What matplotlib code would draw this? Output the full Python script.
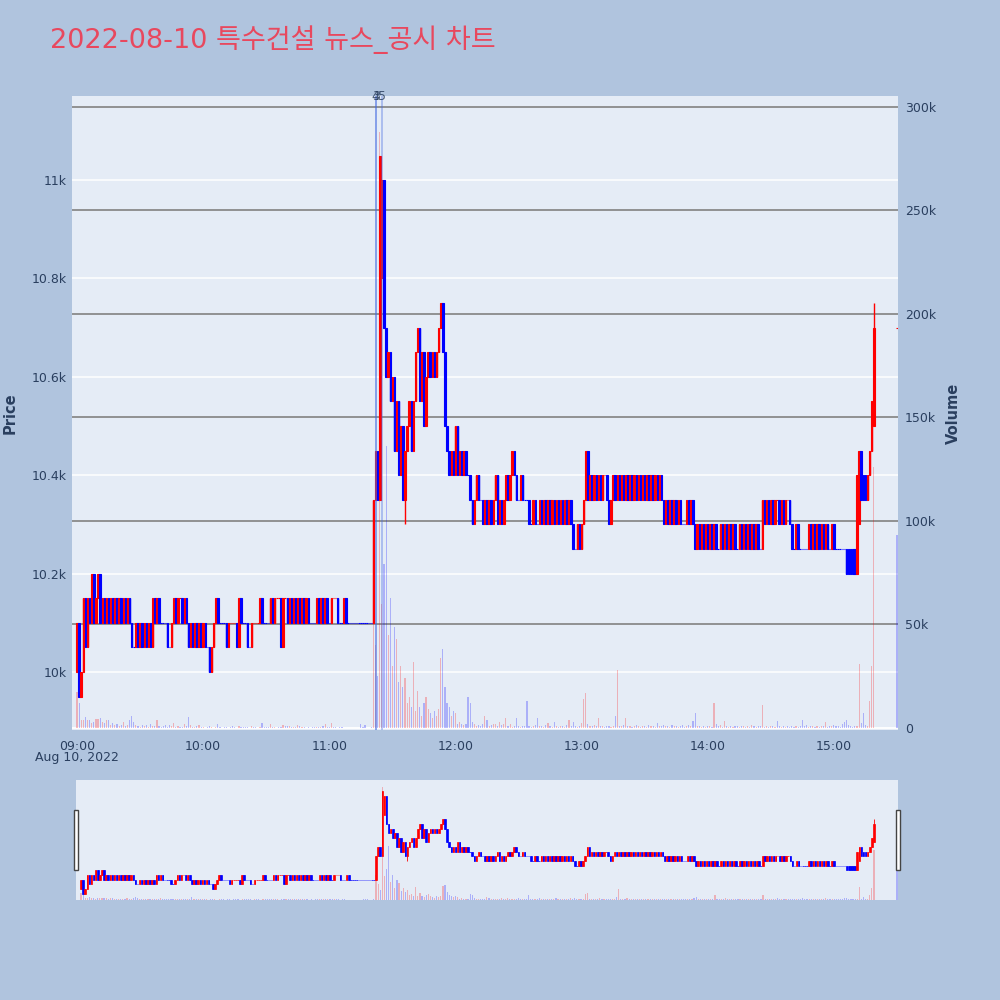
import matplotlib
matplotlib.use('Agg')
import matplotlib.pyplot as plt
import matplotlib.dates as mdates
import matplotlib.transforms as mtransforms
from matplotlib.patches import Rectangle
import pandas as pd

title = '2022-08-10 특수건설 뉴스_공시 차트'

# 1-minute closes 09:00 .. 15:19 (20 per row), closing auction at 15:30
close_prices = [
    10100, 9950, 10000, 10150, 10050, 10150, 10100, 10200, 10100, 10150, 10200, 10100, 10150, 10100, 10150, 10100, 10150, 10100, 10150, 10100,
    10150, 10100, 10150, 10100, 10150, 10100, 10050, 10050, 10100, 10050, 10100, 10050, 10100, 10050, 10100, 10050, 10150, 10100, 10150, 10100,
    10100, 10100, 10100, 10050, 10050, 10100, 10150, 10100, 10150, 10150, 10100, 10150, 10100, 10050, 10100, 10050, 10100, 10050, 10100, 10050,
    10100, 10050, 10050, 10000, 10050, 10100, 10150, 10100, 10100, 10100, 10100, 10050, 10100, 10100, 10100, 10100, 10050, 10150, 10100, 10100,
    10100, 10050, 10050, 10100, 10100, 10100, 10100, 10150, 10100, 10100, 10100, 10100, 10150, 10100, 10150, 10150, 10150, 10050, 10150, 10150,
    10100, 10150, 10100, 10150, 10100, 10150, 10100, 10150, 10100, 10150, 10100, 10100, 10100, 10100, 10150, 10100, 10150, 10100, 10150, 10100,
    10100, 10150, 10150, 10150, 10100, 10100, 10100, 10150, 10100, 10100, 10100, 10100, 10100, 10100, 10100, 10100, 10100, 10100, 10100, 10100,
    10100, 10350, 10450, 10350, 11050, 11000, 10700, 10600, 10650, 10550, 10600, 10450, 10550, 10400, 10500, 10350, 10450, 10500, 10550, 10450,
    10550, 10650, 10700, 10550, 10650, 10500, 10600, 10650, 10600, 10650, 10600, 10650, 10700, 10750, 10650, 10500, 10450, 10400, 10450, 10400,
    10500, 10400, 10450, 10400, 10450, 10400, 10400, 10350, 10300, 10350, 10400, 10350, 10350, 10300, 10350, 10300, 10350, 10300, 10350, 10400,
    10300, 10350, 10300, 10350, 10400, 10350, 10400, 10450, 10400, 10350, 10350, 10400, 10350, 10350, 10350, 10300, 10300, 10350, 10300, 10300,
    10350, 10300, 10350, 10300, 10350, 10300, 10350, 10300, 10350, 10300, 10350, 10300, 10350, 10300, 10350, 10300, 10250, 10250, 10300, 10250,
    10300, 10350, 10450, 10350, 10400, 10350, 10400, 10350, 10400, 10350, 10400, 10400, 10350, 10300, 10350, 10400, 10350, 10400, 10350, 10400,
    10350, 10400, 10350, 10400, 10350, 10400, 10350, 10400, 10350, 10400, 10350, 10400, 10350, 10400, 10350, 10400, 10350, 10400, 10350, 10300,
    10350, 10300, 10350, 10300, 10350, 10300, 10350, 10300, 10300, 10300, 10350, 10300, 10350, 10300, 10250, 10300, 10250, 10300, 10250, 10300,
    10250, 10300, 10250, 10300, 10250, 10250, 10300, 10250, 10300, 10250, 10300, 10250, 10300, 10250, 10250, 10300, 10250, 10300, 10250, 10300,
    10250, 10300, 10250, 10300, 10250, 10250, 10350, 10300, 10350, 10300, 10350, 10300, 10350, 10350, 10300, 10350, 10300, 10350, 10350, 10300,
    10250, 10250, 10300, 10250, 10250, 10250, 10250, 10250, 10300, 10250, 10300, 10250, 10300, 10250, 10300, 10250, 10300, 10250, 10250, 10300,
    10250, 10250, 10250, 10250, 10250, 10250, 10200, 10200, 10200, 10200, 10200, 10400, 10450, 10350, 10350, 10350, 10400, 10450, 10550, 10700,
]
first_open = 10000
auction_price = 10700

# minutes whose open is not the previous close
open_gaps = {145: 10800, 367: 10250, 368: 10250, 369: 10250, 370: 10250,
             372: 10300, 374: 10400, 375: 10400, 379: 10500}
high_wicks = {379: 10750}
low_wicks = {156: 10300}

volumes = [
    17500, 12000, 4000, 4000, 5500, 4000, 4000, 2500, 3000, 4500, 4500, 5000, 3000, 2500, 4000, 4000, 1500, 2300, 1200, 2000,
    1000, 1500, 3000, 800, 1200, 4000, 6000, 3000, 1500, 800, 500, 1500, 800, 1500, 600, 2000, 800, 1000, 4000, 1000,
    500, 800, 1500, 500, 1500, 800, 2600, 500, 800, 500, 300, 2000, 1000, 5500, 1500, 600, 400, 800, 1200, 400,
    300, 200, 500, 800, 300, 200, 400, 2000, 300, 200, 300, 400, 200, 300, 1000, 300, 200, 800, 300, 500,
    300, 500, 200, 700, 400, 300, 200, 500, 2500, 400, 300, 300, 2000, 600, 300, 200, 300, 400, 1200, 800,
    1000, 700, 300, 500, 400, 1500, 800, 400, 300, 200, 300, 200, 500, 300, 400, 600, 300, 900, 1800, 500,
    300, 2500, 400, 300, 200, 500, 300, 200, 100, 100, 200, 100, 100, 100, 100, 2000, 600, 1200, 200, 100,
    300, 63000, 40000, 25000, 288000, 60000, 79000, 136000, 45000, 63000, 30000, 49000, 43000, 22000, 30000, 20000, 24000, 12000, 15000, 10000,
    32000, 8000, 18000, 10000, 6000, 12000, 15000, 9000, 7000, 5000, 8000, 6000, 9000, 34000, 38000, 20000, 12000, 10000, 6000, 8000,
    7000, 2000, 3000, 2000, 1500, 2000, 15000, 12000, 3000, 2000, 1000, 1500, 1000, 2000, 6000, 4000, 1000, 1500, 2000, 2000,
    1000, 3000, 1500, 2000, 5000, 1000, 2000, 500, 1000, 5000, 1000, 500, 1000, 800, 13000, 1000, 500, 800, 1500, 5000,
    1000, 800, 500, 1500, 2500, 1000, 500, 3000, 1000, 500, 800, 1000, 500, 1500, 4000, 800, 3000, 1000, 500, 800,
    2500, 14000, 17000, 2000, 1000, 800, 1500, 1000, 5000, 1000, 800, 500, 1000, 800, 500, 1000, 6000, 28000, 1000, 800,
    1500, 5000, 1000, 800, 500, 1000, 1500, 800, 500, 1000, 800, 500, 1500, 1000, 800, 500, 2500, 1000, 800, 1500,
    1000, 800, 500, 1200, 800, 1000, 500, 800, 1500, 500, 800, 1500, 800, 3500, 7000, 800, 1000, 500, 800, 500,
    800, 1000, 500, 12000, 2000, 800, 1500, 500, 3500, 800, 500, 1000, 500, 800, 1000, 500, 800, 1000, 500, 800,
    500, 1500, 800, 500, 1000, 800, 11000, 500, 800, 500, 1000, 800, 500, 3500, 800, 500, 1000, 500, 800, 500,
    800, 500, 1000, 500, 800, 4000, 1000, 1500, 500, 800, 1000, 500, 800, 500, 1000, 800, 3000, 500, 800, 1000,
    1500, 800, 1000, 500, 2000, 3000, 4000, 1500, 800, 500, 1000, 1000, 31000, 2500, 7000, 1500, 800, 13000, 30000, 126000,
]
auction_volume = 93000

news_times = ['11:22', '11:22', '11:25']
news_labels = ['3', '4', '5']

price_ticks = [10000, 10200, 10400, 10600, 10800, 11000]
price_tick_labels = ['10k', '10.2k', '10.4k', '10.6k', '10.8k', '11k']
volume_ticks = [0, 50000, 100000, 150000, 200000, 250000, 300000]
volume_tick_labels = ['0', '50k', '100k', '150k', '200k', '250k', '300k']

assert len(close_prices) == len(volumes)

# ---- build OHLC ----
times = list(pd.date_range('2022-08-10 09:00', periods=len(close_prices), freq='min'))
times.append(pd.Timestamp('2022-08-10 15:30'))
closes = close_prices + [auction_price]
vols = volumes + [auction_volume]
opens = []
for i, c in enumerate(closes):
    if i in open_gaps:
        opens.append(open_gaps[i])
    elif i == 0:
        opens.append(first_open)
    else:
        opens.append(closes[i - 1])
highs = [high_wicks.get(i, max(o, c)) for i, (o, c) in enumerate(zip(opens, closes))]
lows = [low_wicks.get(i, min(o, c)) for i, (o, c) in enumerate(zip(opens, closes))]

# plotly-style direction: flat candles keep previous direction
inc = []
prev = True
for i, (o, c) in enumerate(zip(opens, closes)):
    if c > o:
        d = True
    elif c < o:
        d = False
    elif i > 0 and c != closes[i - 1]:
        d = c > closes[i - 1]
    else:
        d = prev
    inc.append(d)
    prev = d

x = mdates.date2num([t.to_pydatetime() for t in times])
minute = 1 / 1440.0
candle_col = ['#ff0000' if d else '#0000ff' for d in inc]
vol_col = [(1, 0, 0, 0.25) if c > o else (0, 0, 1, 0.25) for o, c in zip(opens, closes)]

xmin = mdates.date2num(pd.Timestamp('2022-08-10 08:57:36').to_pydatetime())
xmax = mdates.date2num(pd.Timestamp('2022-08-10 15:30:30').to_pydatetime())
pmin, pmax = 9882, 11171
vmin, vmax = -1000, 305300

BG = '#b0c4de'
PLOT_BG = '#e5ecf6'
TXT = '#2a3f5f'


def draw_chart(ax, axv, lw_body, small=False):
    axv.set_zorder(1)
    ax.set_zorder(2)
    ax.patch.set_visible(False)
    axv.patch.set_visible(True)
    axv.patch.set_facecolor(PLOT_BG)
    # volume
    axv.bar(x, vols, width=0.55 * minute, color=vol_col, linewidth=0)
    # candles
    bottoms = [min(o, c) for o, c in zip(opens, closes)]
    heights = [abs(c - o) for o, c in zip(opens, closes)]
    ax.vlines(x, lows, highs, colors=candle_col, linewidth=1.0 if not small else 0.6, zorder=3)
    ax.bar(x, heights, bottom=bottoms, width=0.72 * minute, color=candle_col,
           edgecolor=candle_col, linewidth=lw_body, zorder=4)
    ax.set_xlim(xmin, xmax)
    ax.set_ylim(pmin, pmax)
    axv.set_ylim(vmin, vmax)
    for a in (ax, axv):
        for s in a.spines.values():
            s.set_visible(False)


fig = plt.figure(figsize=(10, 10), dpi=100)
fig.patch.set_facecolor(BG)

ax_vol = fig.add_axes([0.072, 0.27, 0.826, 0.634])
ax = ax_vol.twinx()
draw_chart(ax, ax_vol, 0.8)

# gridlines (plotly draws them under the traces)
for p in price_ticks:
    ax_vol.axhline(vmin + (p - pmin) / (pmax - pmin) * (vmax - vmin), color='white', lw=1.1, zorder=0)
for v in volume_ticks:
    ax_vol.axhline(v, color='white' if v == 0 else '#8a8a8a', lw=1.3, zorder=0.5)

# volume on right, price on left
ax_vol.yaxis.tick_right()
ax_vol.set_yticks(volume_ticks)
ax_vol.set_yticklabels(volume_tick_labels)
ax.yaxis.tick_left()
ax.set_yticks(price_ticks)
ax.set_yticklabels(price_tick_labels)
ax_vol.tick_params(axis='y', length=0, pad=5, labelsize=9, labelcolor=TXT)
ax.tick_params(axis='y', length=0, pad=4, labelsize=9, labelcolor=TXT)

ax_vol.xaxis.set_major_locator(mdates.HourLocator())
ax_vol.xaxis.set_major_formatter(mdates.DateFormatter('%H:%M'))
ax_vol.tick_params(axis='x', length=0, pad=7, labelsize=9, labelcolor=TXT)
ax.tick_params(axis='x', length=0, labelbottom=False)

# news markers
trans = mtransforms.blended_transform_factory(ax.transData, ax.transAxes)
for t, lab in zip(news_times, news_labels):
    xn = mdates.date2num(pd.Timestamp('2022-08-10 ' + t).to_pydatetime())
    ax.axvline(xn, color='#4169e1', alpha=0.45, lw=1.1, zorder=6)
    ax.text(xn, 1.0, lab, transform=trans, ha='center', va='center', fontsize=9, color=TXT,
            alpha=0.85, zorder=7, clip_on=False)

fig.text(0.077, 0.242, 'Aug 10, 2022', ha='center', va='center', fontsize=9, color=TXT)
fig.text(0.010, 0.587, 'Price', rotation=90, ha='center', va='center', fontsize=10.5,
         fontweight='bold', color=TXT)
fig.text(0.953, 0.587, 'Volume', rotation=90, ha='center', va='center', fontsize=10.5,
         fontweight='bold', color=TXT)
fig.text(0.050, 0.960, title, ha='left', va='center', fontsize=19.5, color='#e8485e',
         family=['DejaVu Sans', 'Noto Sans CJK KR'])

# range slider
sl_vol = fig.add_axes([0.076, 0.10, 0.822, 0.12])
sl = sl_vol.twinx()
draw_chart(sl, sl_vol, 0.5, small=True)
for a in (sl, sl_vol):
    a.set_xticks([])
    a.set_yticks([])
for hx in (0.0735, 0.8955):
    fig.patches.append(Rectangle((hx, 0.130), 0.004, 0.060, transform=fig.transFigure,
                                 facecolor='white', edgecolor='#444444', lw=1.0, zorder=10))

plt.savefig('out.png', dpi=100, facecolor=BG)
